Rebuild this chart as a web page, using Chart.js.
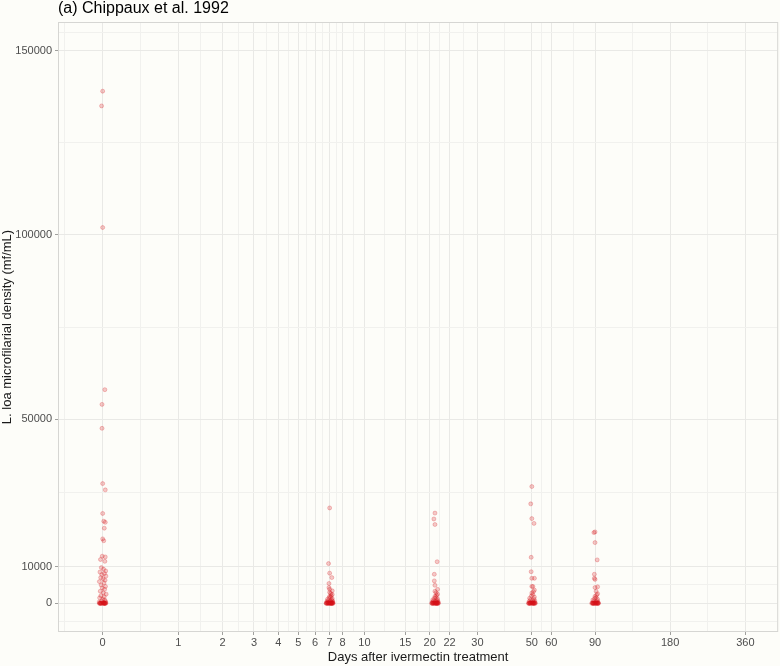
<!DOCTYPE html>
<html>
<head>
<meta charset="utf-8">
<script src="https://cdn.jsdelivr.net/npm/chart.js@4.4.1/dist/chart.umd.min.js"></script>
<style>
  html, body { margin: 0; padding: 0; background: #fdfdf9; }
  #wrap { width: 780px; height: 666px; }
</style>
</head>
<body>
<div id="wrap"><canvas id="canvas1" width="780" height="666"></canvas></div>
<script>
// DATA
// follow-up days of the survey
let days = [0, 7, 20, 50, 90];

// L. loa microfilarial density (mf/mL) per subject
let mfDay0 = [139000, 135000, 102000, 58000, 54000, 47500, 32500, 30800, 24400, 22300,
    22000, 20400, 17500, 17000, 12800, 12600, 11900, 11400, 9700, 9300,
    8800, 8500, 8100, 7800, 7400, 7000, 6700, 6300, 5900, 5500,
    5000, 4600, 4200, 3800, 3300, 2900, 2500, 2100, 1800, 1500,
    1200, 900, 700, 500, 350, 250, 150, 100, 60, 30,
    0, 0, 0, 0, 0, 0, 0, 0, 0, 0, 0, 0];
let mfDay7 = [25900, 10800, 8200, 7000, 5400, 4300, 3800, 3400, 3000, 2700,
    2400, 2100, 1900, 1700, 1500, 1300, 1100, 900, 800, 700,
    600, 500, 400, 350, 300, 250, 200, 150, 120, 100,
    80, 60, 40, 20, 10, 0, 0, 0, 0, 0, 0, 0, 0, 0, 0, 0];
let mfDay20 = [24500, 22900, 21400, 11300, 7900, 6100, 4900, 3800, 3300, 2900,
    2500, 2200, 1900, 1600, 1400, 1200, 1000, 850, 700, 600,
    500, 400, 300, 250, 200, 150, 100, 80, 60, 40,
    20, 0, 0, 0, 0, 0, 0, 0, 0, 0, 0, 0];
let mfDay50 = [31700, 27000, 23000, 21700, 12500, 8600, 6800, 6800, 4600, 4600,
    3600, 3200, 2800, 2400, 2000, 1700, 1400, 1200, 1000, 800,
    650, 500, 400, 300, 200, 150, 100, 50, 20, 0,
    0, 0, 0, 0, 0, 0, 0, 0, 0, 0];
let mfDay90 = [19400, 19200, 16500, 11800, 7900, 6800, 6500, 4500, 4300, 3300,
    2600, 2300, 1900, 1600, 1300, 1100, 900, 700, 550, 400,
    300, 200, 150, 100, 50, 20, 0, 0, 0, 0,
    0, 0, 0, 0, 0, 0, 0, 0];

// horizontal jitter (log scale units)
let jitter = [0, -0.01, 0, 0.02, -0.006, -0.006, 0, 0.024, 0, 0.01,
    0.024, 0.015, 0, 0.01, -0.004, 0.024, -0.02, 0.02, -0.012, 0.008,
    0.028, -0.025, 0.016, -0.008, 0.03, -0.018, 0.004, 0.022, -0.03, 0.012,
    -0.014, 0.026, -0.004, 0.018, -0.022, 0.006, 0.032, -0.016, 0.014, -0.028,
    0.002, 0.02, -0.01, 0.027, -0.032, 0.01, 0.03, -0.02, 0.004, 0.018,
    -0.026, 0.024, -0.006, 0.012, -0.015, 0.028, -0.03, 0.008, 0.02, -0.012,
    0.016, -0.022];

// x axis breaks (days) and their labels
let tickDays = [0, 1, 2, 3, 4, 5, 6, 7, 8, 10, 15, 19, 23, 30, 50, 60, 90, 180, 360];
let tickLabels = ['0', '1', '2', '3', '4', '5', '6', '7', '8', '10', '15', '20', '22', '30', '50', '60', '90', '180', '360'];

// y axis breaks
let yMajor = [0, 10000, 50000, 100000, 150000];
let yMinor = [-5000, 5000, 30000, 75000, 125000, 155000];

// Construction des points
let groups = [mfDay0, mfDay7, mfDay20, mfDay50, mfDay90];
let points = [];
groups.forEach(function (values, g) {
    values.forEach(function (v, i) {
        points.push({x: Math.log1p(days[g]) + jitter[i % jitter.length], y: v});
    });
});

// ticks x : majeurs + mineurs (milieu entre deux majeurs, en echelle log)
let xMajorPos = tickDays.map(d => Math.log1p(d));
let xMinorPos = [xMajorPos[0] - (xMajorPos[1] - xMajorPos[0]) / 2];
for (let i = 0; i < xMajorPos.length - 1; i++) {
    xMinorPos.push((xMajorPos[i] + xMajorPos[i + 1]) / 2);
}

let bgColor = '#fdfdf9';
let gridMajor = '#e9e9e6';
let gridMinor = '#f1f1ee';
let fontFam = '"Liberation Sans", Arial, sans-serif';

function isMajor(ctx) {
    return ctx.tick && ctx.tick.lbl !== '';
}

// fond + bordure du panneau + titre
let panelPlugin = {
    id: 'panel',
    beforeDraw: function (chart) {
        let c = chart.ctx;
        c.save();
        c.fillStyle = bgColor;
        c.fillRect(0, 0, chart.width, chart.height);
        c.restore();
    },
    beforeDatasetsDraw: function (chart) {
        let c = chart.ctx;
        let a = chart.chartArea;
        c.save();
        c.strokeStyle = '#d6d6d3';
        c.lineWidth = 1;
        c.strokeRect(a.left - 0.5, a.top - 0.5, a.right - a.left + 1, a.bottom - a.top + 1);
        c.restore();
    },
    afterDraw: function (chart) {
        let c = chart.ctx;
        c.save();
        c.fillStyle = '#000';
        c.font = '16px ' + fontFam;
        c.textBaseline = 'middle';
        c.textAlign = 'left';
        c.fillText('(a) Chippaux et al. 1992', 58, 9);
        c.restore();
    }
};

let canvas = document.getElementById('canvas1');
let ctx = canvas.getContext('2d');

let config = {
    type: 'scatter',
    data: {
        datasets: [{
            data: points,
            pointRadius: 2,
            pointBorderWidth: 0.8,
            pointBackgroundColor: 'rgba(215, 18, 24, 0.22)',
            pointBorderColor: 'rgba(215, 18, 24, 0.3)',
            pointHoverRadius: 2
        }]
    },
    options: {
        responsive: false,
        animation: false,
        devicePixelRatio: 1,
        layout: {padding: {top: 23, right: 2, left: 0, bottom: 0}},
        plugins: {legend: {display: false}, tooltip: {enabled: false}},
        scales: {
            x: {
                type: 'linear',
                min: -0.40,
                max: 6.18,
                afterBuildTicks: function (scale) {
                    let t = xMajorPos.map((v, i) => ({value: v, lbl: tickLabels[i]}));
                    xMinorPos.forEach(v => t.push({value: v, lbl: ''}));
                    scale.ticks = t;
                },
                afterFit: function (scale) { scale.height = 35; },
                ticks: {
                    autoSkip: false,
                    maxRotation: 0,
                    padding: 1,
                    color: '#4d4d4d',
                    font: {family: fontFam, size: 11},
                    callback: function (value, index, ticks) { return ticks[index].lbl; }
                },
                grid: {
                    color: ctx => isMajor(ctx) ? gridMajor : gridMinor,
                    tickColor: ctx => isMajor(ctx) ? '#a0a09d' : 'rgba(0,0,0,0)',
                    tickLength: 4,
                    lineWidth: 1
                },
                border: {display: false},
                title: {
                    display: true,
                    text: 'Days after ivermectin treatment',
                    color: '#1a1a1a',
                    font: {family: fontFam, size: 13},
                    padding: {top: 0, bottom: 1}
                }
            },
            y: {
                type: 'linear',
                min: -7500,
                max: 157500,
                afterBuildTicks: function (scale) {
                    let t = yMajor.map(v => ({value: v, lbl: String(v)}));
                    yMinor.forEach(v => t.push({value: v, lbl: ''}));
                    scale.ticks = t;
                },
                afterFit: function (scale) { scale.width = 59; },
                ticks: {
                    autoSkip: false,
                    padding: 3,
                    color: '#4d4d4d',
                    font: {family: fontFam, size: 11},
                    callback: function (value, index, ticks) { return ticks[index].lbl; }
                },
                grid: {
                    color: ctx => isMajor(ctx) ? gridMajor : gridMinor,
                    tickColor: ctx => isMajor(ctx) ? '#a0a09d' : 'rgba(0,0,0,0)',
                    tickLength: 4,
                    lineWidth: 1
                },
                border: {display: false},
                title: {
                    display: true,
                    text: 'L. loa microfilarial density (mf/mL)',
                    color: '#1a1a1a',
                    font: {family: fontFam, size: 13},
                    padding: {top: 0, bottom: 0}
                }
            }
        }
    },
    plugins: [panelPlugin]
};

let densityChart = new Chart(ctx, config);
</script>
</body>
</html>
